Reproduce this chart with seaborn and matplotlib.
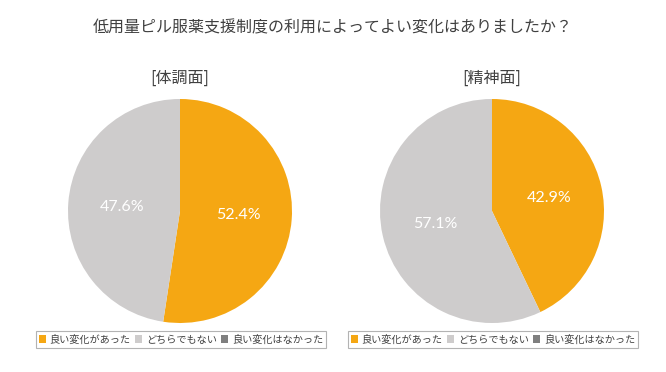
import matplotlib
matplotlib.use("Agg")
import matplotlib.pyplot as plt
from matplotlib.patches import Patch
import seaborn as sns

# data
title = "低用量ピル服薬支援制度の利用によってよい変化はありましたか？"
panel_titles = ["[体調面]", "[精神面]"]
categories = ["良い変化があった", "どちらでもない", "良い変化はなかった"]
body_values = [52.4, 47.6, 0.0]
mind_values = [42.9, 57.1, 0.0]
colors = ["#F5A713", "#CECCCC", "#7F7F7F"]

sns.set_theme(style="white")
plt.rcParams["font.family"] = ["Noto Sans CJK JP", "DejaVu Sans"]

W, H = 666, 372
fig = plt.figure(figsize=(W / 100, H / 100), dpi=100)
fig.text(333 / W, 1 - 28 / H, title, ha="center", va="center",
         fontsize=11.5, color="#404040")

centers = [180, 492]
radius = 112
for cx, sub, vals in zip(centers, panel_titles, [body_values, mind_values]):
    ax = fig.add_axes([(cx - radius) / W, (H - 211 - radius) / H,
                       2 * radius / W, 2 * radius / H])
    nz = [(v, c) for v, c in zip(vals, colors) if v > 0]
    wedges, texts, autotexts = ax.pie(
        [v for v, _ in nz],
        colors=[c for _, c in nz],
        startangle=90,
        counterclock=False,
        autopct="%.1f%%",
        pctdistance=0.52,
        wedgeprops=dict(linewidth=0),
        textprops=dict(color="white", fontsize=11.5, family=["Lato", "DejaVu Sans"]),
    )
    ax.set_xlim(-1, 1)
    ax.set_ylim(-1, 1)
    ax.set_aspect("equal")
    ax.axis("off")
    fig.text(cx / W, 1 - 78 / H, sub, ha="center", va="center",
             fontsize=11.5, color="#404040")

    # legend box under each pie
    handles = [Patch(facecolor=c, edgecolor="none") for c in colors]
    leg = fig.legend(handles, categories, loc="center",
                     bbox_to_anchor=((cx + 1) / W, 1 - 339.5 / H), ncol=3,
                     fontsize=7.3, frameon=True, fancybox=False,
                     handlelength=0.7, handleheight=0.7, handletextpad=0.35,
                     columnspacing=0.45, borderpad=0.3, borderaxespad=0,
                     labelcolor="#404040")
    leg.get_frame().set_edgecolor("#A0A0A0")
    leg.get_frame().set_linewidth(0.8)

fig.savefig("out.png", dpi=100, facecolor="white")
